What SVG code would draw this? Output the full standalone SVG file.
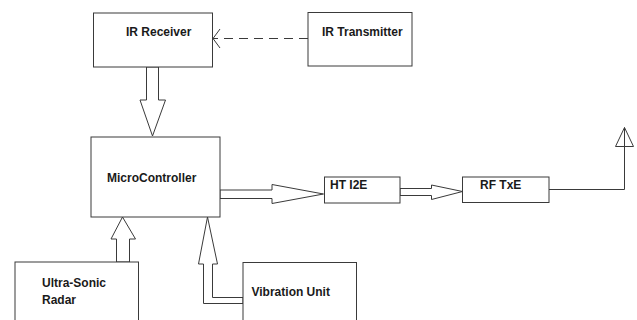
<svg xmlns="http://www.w3.org/2000/svg" width="637" height="320" viewBox="0 0 637 320">
<style>
.box{fill:#fff;stroke:#3a3a3a;stroke-width:1}
.ln{fill:none;stroke:#3a3a3a;stroke-width:1}
.bk{fill:#fff;stroke:#3a3a3a;stroke-width:1}
text{font-family:"Liberation Sans",Arial,sans-serif;font-weight:bold;font-size:12px;fill:#1a1a1a}
</style>
<rect width="637" height="320" fill="#fff"/>
<g id="connectors">
<line class="ln" x1="308" y1="38.5" x2="213" y2="38.5" stroke-dasharray="9,6"/>
<polyline class="ln" points="220,29 213,38.5 220,48"/>
<polygon class="bk" points="146.5,67 158.5,67 158.5,100 165.5,100 152.5,136 140,100 146.5,100"/>
<polygon class="bk" points="220,190 272,190 272,184.5 323.5,194 272,203.5 272,198.5 220,198.5"/>
<polygon class="bk" points="400,188.5 431.5,188.5 431.5,185 462.5,191.5 431.5,199.5 431.5,195.5 400,195.5"/>
<polyline class="ln" points="549,189.5 624.5,189.5 624.5,127.5"/>
<polygon class="ln" points="624.5,127.5 633.5,146.5 615.5,146.5"/>
<polygon class="bk" points="116.5,262 116.5,239 111,239 122.5,217 135.5,239 129.5,239 129.5,262"/>
<polygon class="bk" points="243,303.5 203.5,303.5 203.5,264 198.5,264 207.5,217 217.5,264 212.5,264 212.5,297.5 243,297.5"/>
</g>
<g id="ir-receiver">
<rect class="box" x="93.5" y="13" width="119" height="54"/>
<text x="126" y="36">IR Receiver</text>
</g>
<g id="ir-transmitter">
<rect class="box" x="308" y="12.5" width="104" height="53.5"/>
<text x="322" y="35.5">IR Transmitter</text>
</g>
<g id="microcontroller">
<rect class="box" x="91" y="137" width="129" height="80"/>
<text x="107" y="182">MicroController</text>
</g>
<g id="ht-i2e">
<rect class="box" x="324.5" y="177" width="75.5" height="26"/>
<text x="330" y="189">HT I2E</text>
</g>
<g id="rf-txe">
<rect class="box" x="462.5" y="177" width="86.5" height="25.5"/>
<text x="480" y="189">RF TxE</text>
</g>
<g id="ultrasonic-radar">
<rect class="box" x="15" y="262" width="123.5" height="70"/>
<text x="42" y="287">Ultra-Sonic</text>
<text x="42" y="303.5">Radar</text>
</g>
<g id="vibration-unit">
<rect class="box" x="243" y="262.5" width="113.5" height="70"/>
<text x="251.5" y="296">Vibration Unit</text>
</g>
</svg>
